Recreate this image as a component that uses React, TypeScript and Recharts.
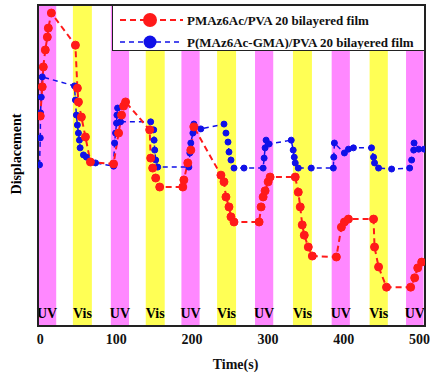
import React from "react";
import { ComposedChart, Line, XAxis, YAxis, ReferenceArea } from "recharts";

// Time (s) and displacement (arbitrary units, 0-100)
const redTime = [0, 2.6, 4.0, 6.6, 9.3, 10.6, 14.6, 46.3, 48.9, 50.3, 54.2, 59.5, 66.1, 96.6, 103.2, 107.1, 109.8, 112.4, 144.2, 145.5, 148.1, 152.1, 157.4, 187.8, 189.2, 194.4, 198.4, 202.4, 238.1, 242.1, 244.7, 248.7, 251.3, 255.3, 288.4, 291.0, 293.7, 296.3, 300.3, 302.9, 336.0, 340.0, 342.6, 345.2, 347.9, 353.2, 358.5, 390.2, 396.8, 400.8, 406.1, 439.2, 440.5, 445.8, 456.3, 488.1, 493.4, 497.4, 502.6];
const redValue = [65.4, 74.5, 80.7, 86.0, 90.0, 92.8, 97.5, 87.5, 74.1, 69.8, 65.1, 58.9, 51.1, 50.5, 60.1, 65.7, 68.5, 69.8, 61.1, 52.3, 49.2, 46.1, 43.3, 43.3, 45.5, 50.8, 54.8, 62.0, 47.0, 44.9, 40.2, 37.1, 34.0, 32.4, 32.4, 37.1, 40.2, 42.1, 44.9, 46.4, 46.4, 41.7, 37.1, 31.5, 28.3, 24.6, 21.8, 21.5, 30.8, 32.4, 33.3, 33.3, 24.6, 18.4, 12.1, 12.1, 15.0, 18.1, 19.9];

const blueTime = [-1, 0, 0.3, 1.3, 2.6, 45.0, 46.3, 47.6, 48.9, 50.3, 51.6, 52.5, 56.9, 60.8, 72.8, 96.6, 97.9, 99.2, 100.5, 101.0, 101.9, 105.8, 145.5, 149.5, 150.0, 150.8, 152.1, 154.8, 195.8, 197.1, 198.4, 201.1, 202.4, 211.6, 242.1, 244.7, 247.4, 248.7, 251.3, 255.3, 268.5, 293.7, 295.0, 296.3, 297.6, 301.6, 330.7, 333.3, 334.7, 336.0, 340.0, 357.1, 386.2, 386.8, 387.6, 400.8, 406.1, 412.7, 436.5, 439.2, 440.5, 445.8, 463.0, 486.8, 489.4, 492.1, 492.6, 498.7, 506];
const blueValue = [50.2, 58.6, 66.4, 71.3, 77.6, 74.8, 70.4, 65.7, 62.6, 60.1, 57.9, 55.5, 53.3, 52.6, 50.8, 49.8, 57.0, 60.1, 63.2, 65.7, 67.9, 63.6, 63.6, 61.1, 57.9, 54.8, 51.7, 49.5, 49.5, 53.9, 57.0, 60.1, 62.9, 61.4, 62.9, 60.1, 57.3, 54.2, 51.7, 49.2, 49.2, 49.2, 52.3, 55.5, 57.9, 56.7, 57.9, 54.8, 52.6, 50.8, 49.2, 49.2, 49.2, 52.6, 57.0, 53.9, 55.1, 55.5, 55.5, 52.6, 50.8, 49.2, 48.9, 49.2, 51.7, 54.8, 57.0, 55.1, 55.1];

const uvStart = [-3, 93, 186, 283, 384, 482];
const uvEnd = [21, 117, 210, 307, 408, 505];
const visStart = [43, 139, 233, 333, 434];
const visEnd = [68, 164, 258, 358, 458];

const xTicks = [0, 100, 200, 300, 400, 500];
const redName = "PMAz6Ac/PVA 20 bilayered film";
const blueName = "P(MAz6Ac-GMA)/PVA 20 bilayered film";

const redData = redTime.map((t, i) => ({ t, v: redValue[i] }));
const blueData = blueTime.map((t, i) => ({ t, v: blueValue[i] }));

const FONT = '"Liberation Serif", "Times New Roman", serif';
const RED = "#ff1a1a";
const BLUE = "#1010e8";
const MAGENTA = "#ff88ff";
const YELLOW = "#ffff55";

const bandLabel = (text: string) => (props: any) => {
  const vb = props.viewBox || {};
  return (
    <text
      x={vb.x + vb.width / 2}
      y={vb.y + vb.height - 8}
      textAnchor="middle"
      fontFamily={FONT}
      fontWeight="bold"
      fontSize={14}
      fill="#000"
    >
      {text}
    </text>
  );
};

const yLabel = (props: any) => {
  const vb = props.viewBox || {};
  const cx = 16;
  const cy = 154;
  return (
    <text
      x={cx}
      y={cy}
      transform={`rotate(-90, ${cx}, ${cy})`}
      textAnchor="middle"
      dominantBaseline="central"
      fontFamily={FONT}
      fontWeight="bold"
      fontSize={14}
      fill="#000"
    >
      Displacement
    </text>
  );
};

export default function App() {
  return (
    <div style={{ position: "absolute", left: 0, top: 0, width: 430, height: 372, background: "#fff" }}>
      <ComposedChart width={430} height={372} margin={{ top: 5, right: 5, left: 0, bottom: 0 }}>
        <XAxis
          type="number"
          dataKey="t"
          domain={[-3, 507]}
          ticks={xTicks}
          allowDataOverflow
          tickLine={false}
          axisLine={{ stroke: "#222", strokeWidth: 2 }}
          height={46}
          tick={{ fontFamily: FONT, fontWeight: "bold", fontSize: 14, fill: "#111" }}
          label={{ value: "Time(s)", position: "insideBottom", offset: 3, dx: 4, style: { fontFamily: FONT, fontWeight: "bold", fontSize: 14, fill: "#111" } }}
        />
        <YAxis
          type="number"
          domain={[0, 100]}
          allowDataOverflow
          tick={false}
          tickLine={false}
          axisLine={{ stroke: "#222", strokeWidth: 2 }}
          width={38}
          label={yLabel}
        />
        {uvStart.map((s, i) => (
          <ReferenceArea key={"uv" + i} x1={s} x2={uvEnd[i]} y1={0} y2={100} fill={MAGENTA} fillOpacity={1} stroke="none" ifOverflow="hidden" label={bandLabel("UV")} />
        ))}
        {visStart.map((s, i) => (
          <ReferenceArea key={"vis" + i} x1={s} x2={visEnd[i]} y1={0} y2={100} fill={YELLOW} fillOpacity={1} stroke="none" ifOverflow="hidden" label={bandLabel("Vis")} />
        ))}
        <ReferenceArea x1={-3} x2={507} y1={0} y2={100} fill="none" stroke="#222" strokeWidth={2} ifOverflow="visible" />
        <Line
          data={blueData}
          dataKey="v"
          type="linear"
          stroke={BLUE}
          strokeWidth={1.5}
          strokeDasharray="5 4"
          dot={{ r: 3, fill: BLUE, stroke: BLUE, strokeWidth: 1, strokeDasharray: "" }}
          isAnimationActive={false}
        />
        <Line
          data={redData}
          dataKey="v"
          type="linear"
          stroke={RED}
          strokeWidth={2}
          strokeDasharray="6 4"
          dot={{ r: 4, fill: RED, stroke: RED, strokeWidth: 1, strokeDasharray: "" }}
          isAnimationActive={false}
        />
      </ComposedChart>
      <div
        style={{
          position: "absolute",
          left: 112,
          top: 5,
          width: 313,
          height: 46,
          boxSizing: "border-box",
          border: "1.5px solid #222",
          background: "#fff",
        }}
      >
        <svg width={311} height={43} style={{ display: "block" }}>
          <line x1={7} y1={14} x2={70} y2={14} stroke={RED} strokeWidth={2} strokeDasharray="6 4" />
          <circle cx={37} cy={14} r={7} fill={RED} />
          <text x={74} y={14} dominantBaseline="central" fontFamily={FONT} fontWeight="bold" fontSize={13} fill="#111">
            {redName}
          </text>
          <line x1={7} y1={36} x2={70} y2={36} stroke={BLUE} strokeWidth={1.5} strokeDasharray="5 4" />
          <circle cx={37} cy={36} r={6.5} fill={BLUE} />
          <text x={74} y={36} dominantBaseline="central" fontFamily={FONT} fontWeight="bold" fontSize={13} fill="#111">
            {blueName}
          </text>
        </svg>
      </div>
    </div>
  );
}
